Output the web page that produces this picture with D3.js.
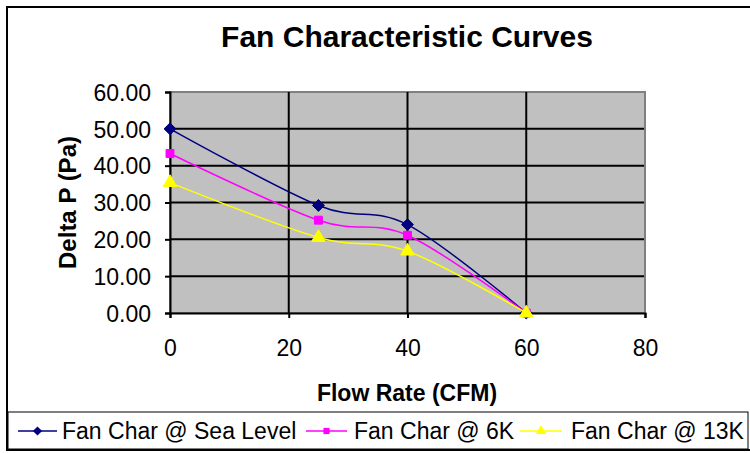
<!DOCTYPE html>
<html>
<head>
<meta charset="utf-8">
<script src="https://cdn.jsdelivr.net/npm/d3@7"></script>
<style>
  body { margin: 0; background: #fff; }
  svg { display: block; font-family: "Liberation Sans", Arial, sans-serif; }
</style>
</head>
<body>
<div id="chart"></div>
<script>
// Chart data
const flowRate = [0, 25, 40, 60];
const seaLevel = [50, 29.2, 24, 0];
const at6K = [43.3, 25.2, 21.1, 0];
const at13K = [35.4, 20.5, 16.8, 0];
const seriesNames = ["Fan Char @ Sea Level", "Fan Char @ 6K", "Fan Char @ 13K"];
const xTicks = [0, 20, 40, 60, 80];
const yTicks = [0, 10, 20, 30, 40, 50, 60];

function init() {
    const width = 750, height = 453;
    const plot = { left: 170, top: 92, right: 645, bottom: 313 };

    const svg = d3.select("#chart")
                  .append("svg")
                  .attr("width", width)
                  .attr("height", height);

    // Outer chart border
    svg.append("rect")
       .attr("x", 7).attr("y", 7)
       .attr("width", 760).attr("height", 443)
       .attr("fill", "#fff")
       .attr("stroke", "#000")
       .attr("stroke-width", 2);

    const x = d3.scaleLinear().domain([0, 80]).range([plot.left, plot.right]);
    const y = d3.scaleLinear().domain([0, 60]).range([plot.bottom, plot.top]);

    // Plot area background
    svg.append("rect")
       .attr("x", plot.left).attr("y", plot.top)
       .attr("width", plot.right - plot.left)
       .attr("height", plot.bottom - plot.top)
       .attr("fill", "#c0c0c0")
       .attr("stroke", "#808080")
       .attr("stroke-width", 2);

    // Gridlines
    svg.append("g").selectAll("line")
       .data(yTicks.filter(d => d > 0))
       .enter().append("line")
       .attr("x1", plot.left).attr("x2", plot.right)
       .attr("y1", d => y(d)).attr("y2", d => y(d))
       .attr("stroke", d => d === 60 ? "#808080" : "#000")
       .attr("stroke-width", 2);

    svg.append("g").selectAll("line")
       .data(xTicks.filter(d => d > 0))
       .enter().append("line")
       .attr("x1", d => x(d)).attr("x2", d => x(d))
       .attr("y1", plot.top).attr("y2", plot.bottom)
       .attr("stroke", d => d === 80 ? "#808080" : "#000")
       .attr("stroke-width", 2);

    // Axes
    const yAxis = d3.axisLeft(y).tickValues(yTicks).tickSize(5).tickPadding(14)
                    .tickFormat(d3.format(".2f"));
    const xAxis = d3.axisBottom(x).tickValues(xTicks).tickSize(5).tickPadding(22);

    const gy = svg.append("g").attr("transform", `translate(${plot.left},0)`).call(yAxis);
    const gx = svg.append("g").attr("transform", `translate(0,${plot.bottom})`).call(xAxis);

    [gx, gy].forEach(g => {
        g.select(".domain").attr("stroke", "#000").attr("stroke-width", 2);
        g.selectAll(".tick line").attr("stroke", "#000").attr("stroke-width", 2);
        g.selectAll(".tick text")
         .attr("fill", "#000")
         .style("font-size", "23px")
         .style("font-family", "'Liberation Sans', Arial, sans-serif");
    });
    gy.selectAll(".tick text").attr("dy", "0.36em");

    // Series
    const series = [
        { name: seriesNames[0], values: seaLevel, color: "#000080", symbol: d3.symbolDiamond2, size: 90 },
        { name: seriesNames[1], values: at6K, color: "#ff00ff", symbol: d3.symbolSquare2, size: 80 },
        { name: seriesNames[2], values: at13K, color: "#ffff00", symbol: d3.symbolTriangle, size: 80 }
    ];

    const line = d3.line()
                   .x((d, i) => x(flowRate[i]))
                   .y(d => y(d))
                   .curve(d3.curveCardinal.tension(0));

    series.forEach(s => {
        svg.append("path")
           .attr("d", line(s.values))
           .attr("fill", "none")
           .attr("stroke", s.color)
           .attr("stroke-width", 1.5);

        svg.append("g").selectAll("path")
           .data(s.values)
           .enter().append("path")
           .attr("transform", (d, i) => `translate(${x(flowRate[i])},${y(d)})`)
           .attr("d", d3.symbol().type(s.symbol).size(s.size))
           .attr("fill", s.color)
           .attr("stroke", s.color)
           .attr("stroke-width", 1);
    });

    // Titles
    svg.append("text")
       .attr("x", 407).attr("y", 47)
       .attr("text-anchor", "middle")
       .style("font-size", "30px")
       .style("font-weight", "bold")
       .text("Fan Characteristic Curves");

    svg.append("text")
       .attr("x", 407).attr("y", 401)
       .attr("text-anchor", "middle")
       .style("font-size", "23px")
       .style("font-weight", "bold")
       .text("Flow Rate (CFM)");

    svg.append("text")
       .attr("transform", `translate(76,${(plot.top + plot.bottom) / 2}) rotate(-90)`)
       .attr("text-anchor", "middle")
       .style("font-size", "24px")
       .style("font-weight", "bold")
       .text("Delta P (Pa)");

    // Legend
    svg.append("rect")
       .attr("x", 8).attr("y", 412)
       .attr("width", 740).attr("height", 37)
       .attr("fill", "#fff")
       .attr("stroke", "#000")
       .attr("stroke-width", 1);

    const legendPos = [
        { x1: 18, x2: 57, tx: 62 },
        { x1: 306, x2: 347, tx: 354 },
        { x1: 520, x2: 562, tx: 571 }
    ];
    const ly = 431;

    series.forEach((s, i) => {
        const p = legendPos[i];
        svg.append("line")
           .attr("x1", p.x1).attr("x2", p.x2)
           .attr("y1", ly).attr("y2", ly)
           .attr("stroke", s.color)
           .attr("stroke-width", 1.5);
        svg.append("path")
           .attr("transform", `translate(${(p.x1 + p.x2) / 2},${ly})`)
           .attr("d", d3.symbol().type(s.symbol).size(s.size * 0.6))
           .attr("fill", s.color);
        svg.append("text")
           .attr("x", p.tx).attr("y", ly + 8)
           .style("font-size", "23px")
           .text(s.name);
    });
}

init();
</script>
</body>
</html>
